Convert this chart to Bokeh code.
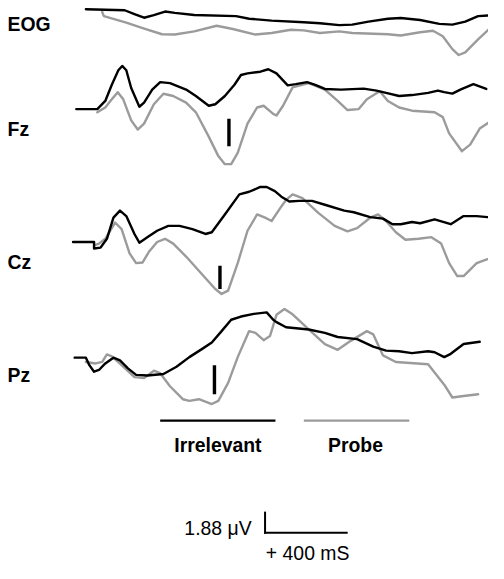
from bokeh.plotting import figure
from bokeh.models import Range1d
from bokeh.core.properties import value
from bokeh.embed import file_html
from bokeh.resources import INLINE

# ---------------- data (time in ms, amplitude in microvolts) ----------------
channels = ["EOG", "Fz", "Cz", "Pz"]
conditions = ["Irrelevant", "Probe"]

eog_irr_ms = [-56, 134, 182, 229, 277, 332, 380, 475, 680, 744, 854, 1012, 1091, 1186, 1249,
              1329, 1424, 1487, 1582, 1676, 1740, 1803, 1866, 1917]
eog_irr_uv = [0.00, -0.09, -0.45, -0.79, -0.54, -0.21, -0.34, -0.54, -0.64, -0.88, -1.06, -1.21,
              -1.30, -1.48, -1.43, -1.15, -0.88, -0.82, -1.00, -1.36, -1.43, -1.15, -0.64, -0.57]
eog_probe_ms = [24, 32, 142, 222, 317, 380, 475, 585, 664, 775, 854, 949, 1012, 1091, 1186, 1249,
                1424, 1487, 1582, 1645, 1693, 1740, 1771, 1803, 1866, 1917]
eog_probe_uv = [-0.25, -0.64, -1.24, -1.75, -2.33, -2.36, -2.06, -1.54, -1.84, -2.36, -2.21, -1.91,
                -1.97, -2.21, -2.06, -2.21, -2.33, -2.45, -2.15, -2.00, -2.52, -3.72, -4.27, -4.02,
                -2.81, -1.91]

fz_irr_ms = [-103, 0, 39, 71, 103, 122, 142, 166, 206, 229, 269, 308, 356, 435, 483, 546, 578,
             625, 672, 704, 736, 799, 838, 878, 933, 973, 1028, 1068, 1115, 1194, 1305, 1368,
             1415, 1479, 1542, 1621, 1669, 1700, 1740, 1779, 1843, 1906]
fz_irr_uv = [0.00, 0.00, 0.76, 2.27, 3.63, 4.03, 3.63, 1.97, 0.22, 0.61, 1.82, 2.52, 2.42, 1.82,
             1.22, 0.31, 0.45, 1.22, 2.27, 3.18, 3.33, 3.49, 3.72, 3.33, 2.22, 2.33, 2.52, 2.27,
             1.88, 1.82, 1.91, 1.73, 1.52, 1.22, 1.31, 1.52, 1.73, 1.58, 1.45, 1.82, 2.33, 1.88]
fz_probe_ms = [0, 39, 71, 100, 127, 166, 198, 229, 277, 324, 372, 435, 483, 546, 593, 625, 656,
               688, 736, 783, 815, 862, 878, 910, 957, 1036, 1115, 1178, 1226, 1281, 1321, 1384,
               1424, 1479, 1542, 1653, 1693, 1724, 1787, 1827, 1874, 1914]
fz_probe_uv = [-0.30, 0.15, 0.91, 1.58, 0.91, -1.05, -1.91, -1.36, 0.45, 1.43, 1.22, 0.61, -0.30,
               -2.57, -4.39, -5.14, -5.14, -4.09, -1.36, 0.15, 0.31, -0.45, -0.60, 0.31, 2.03,
               2.42, 1.82, 0.76, -0.09, 0.00, 0.91, 1.67, 0.76, 0.15, -0.15, -0.30, -0.75, -2.27,
               -3.93, -3.32, -1.82, -1.30]

cz_irr_ms = [-119, -16, -16, 16, 47, 79, 111, 142, 182, 206, 245, 293, 348, 403, 466, 530, 561,
             625, 696, 744, 799, 830, 870, 902, 941, 988, 1052, 1115, 1210, 1257, 1337, 1400,
             1447, 1487, 1542, 1582, 1653, 1732, 1795, 1859, 1912]
cz_irr_uv = [0.00, 0.00, -0.61, -0.52, 0.30, 2.27, 2.93, 2.42, 0.75, -0.06, 0.45, 1.05, 1.51,
             1.51, 1.21, 0.75, 0.91, 2.57, 4.45, 4.69, 5.14, 5.14, 4.75, 4.23, 3.78, 3.84, 3.84,
             3.48, 2.93, 2.78, 2.32, 2.18, 1.66, 1.66, 1.87, 1.75, 2.12, 1.66, 2.42, 2.42, 2.32]
cz_probe_ms = [-16, 8, 39, 87, 119, 158, 190, 222, 253, 293, 332, 372, 435, 514, 578, 609, 641,
               688, 736, 783, 822, 854, 902, 925, 957, 1005, 1083, 1163, 1226, 1273, 1337, 1376,
               1415, 1463, 1510, 1574, 1637, 1685, 1724, 1764, 1795, 1859, 1912]
cz_probe_uv = [-0.31, -0.15, 0.30, 1.82, 1.21, -1.06, -1.97, -1.91, -0.91, 0.00, 0.30, -0.15,
               -1.36, -3.03, -4.39, -4.85, -4.54, -1.97, 1.05, 2.57, 2.27, 1.96, 3.32, 3.93, 4.45,
               4.09, 2.72, 1.51, 1.00, 1.30, 2.27, 2.57, 1.96, 0.91, 0.21, 0.30, 0.45, -0.15,
               -1.97, -3.18, -3.18, -1.97, -1.61]

pz_irr_ms = [-111, -56, -39, -16, 8, 39, 79, 111, 150, 190, 245, 324, 388, 451, 514, 561, 609,
             656, 704, 767, 830, 862, 878, 925, 1036, 1115, 1178, 1273, 1352, 1415, 1479, 1542,
             1621, 1653, 1700, 1732, 1795, 1874]
pz_irr_uv = [0.00, 0.00, -0.70, -1.31, -1.15, -0.54, 0.00, -0.25, -1.00, -1.61, -1.67, -1.52,
             -0.85, 0.05, 0.82, 1.42, 2.48, 3.54, 3.84, 4.09, 4.23, 3.54, 3.32, 2.84, 2.63, 2.32,
             1.93, 1.73, 1.03, 0.66, 0.60, 0.42, 0.60, 0.51, 0.05, 0.36, 1.27, 1.48]
pz_probe_ms = [-56, -8, 24, 47, 71, 119, 182, 229, 277, 308, 356, 419, 451, 498, 561, 593, 641,
               688, 744, 775, 815, 846, 878, 917, 957, 1036, 1115, 1178, 1242, 1321, 1352, 1400,
               1463, 1621, 1700, 1740, 1795, 1866]
pz_probe_uv = [-0.40, -0.54, -0.40, 0.30, 0.12, -0.70, -1.82, -1.91, -1.22, -1.45, -2.67, -3.88,
               -4.03, -3.88, -4.33, -4.03, -2.36, 0.05, 2.48, 2.32, 1.63, 2.02, 4.00, 4.54, 4.05,
               2.63, 1.27, 0.73, 1.57, 2.48, 2.18, 0.21, -0.40, -0.61, -2.52, -3.72, -3.58, -3.42]

# peak markers (Fz, Cz, Pz)
marker_channels = ["Fz", "Cz", "Pz"]
marker_ms = [645, 601, 574]
marker_top_uv = [-0.91, -2.22, -0.70]
marker_bottom_uv = [-3.48, -4.39, -3.42]

# calibration
scale_uv = 1.88
scale_ms = 400
scale_uv_label = "1.88 \u03bcV"
scale_ms_label = "+ 400 mS"

traces = {
    "EOG": (eog_irr_ms, eog_irr_uv, eog_probe_ms, eog_probe_uv),
    "Fz": (fz_irr_ms, fz_irr_uv, fz_probe_ms, fz_probe_uv),
    "Cz": (cz_irr_ms, cz_irr_uv, cz_probe_ms, cz_probe_uv),
    "Pz": (pz_irr_ms, pz_irr_uv, pz_probe_ms, pz_probe_uv),
}

# ---------------- layout (positions / styles) ----------------
BASE = {"EOG": -0.82, "Fz": -10.14, "Cz": -22.55, "Pz": -33.35}
LABEL_Y = {"EOG": -2.22, "Fz": -11.98, "Cz": -24.44, "Pz": -35.00}
IRR_COLOR = "#000000"
PROBE_COLOR = "#9b9b9b"
FONT = "Liberation Sans"
FS = "19.4px"

p = figure(width=488, height=563, x_range=Range1d(-474.5, 1917.0),
           y_range=Range1d(-52.57, 0.0), toolbar_location=None,
           output_backend="svg", x_axis_type=None, y_axis_type=None,
           min_border=0, min_border_left=0, min_border_right=0,
           min_border_top=0, min_border_bottom=0)
p.outline_line_color = None
p.grid.visible = False
p.background_fill_color = "white"
p.border_fill_color = "white"

for ch in channels:
    irr_t, irr_v, pr_t, pr_v = traces[ch]
    b = BASE[ch]
    p.line(pr_t, [v + b for v in pr_v], line_color=PROBE_COLOR, line_width=2.4,
           line_join="round", line_cap="round")
    p.line(irr_t, [v + b for v in irr_v], line_color=IRR_COLOR, line_width=2.4,
           line_join="round", line_cap="round")

# channel labels
p.text(x=[-440.0] * len(channels), y=[LABEL_Y[c] for c in channels], text=channels,
       text_font=value(FONT), text_font_style="bold", text_font_size=FS,
       text_color="black", text_align="left", text_baseline="middle")

# markers
p.segment(x0=marker_ms, x1=marker_ms,
          y0=[t + BASE[c] for t, c in zip(marker_top_uv, marker_channels)],
          y1=[bt + BASE[c] for bt, c in zip(marker_bottom_uv, marker_channels)],
          line_color="black", line_width=3.4, line_cap="butt")

# legend
LEG_Y = -39.23
p.segment(x0=[308, 1012], x1=[873, 1529], y0=[LEG_Y, LEG_Y], y1=[LEG_Y, LEG_Y],
          line_color=[IRR_COLOR, PROBE_COLOR], line_width=2.4)
p.text(x=[591, 1265], y=[-41.49, -41.49], text=conditions,
       text_font=value(FONT), text_font_style="bold", text_font_size=FS,
       text_color="black", text_align="center", text_baseline="middle")

# calibration bar
SB_X, SB_Y = 822, -49.70
p.segment(x0=[SB_X, SB_X], x1=[SB_X, SB_X + scale_ms], y0=[SB_Y, SB_Y],
          y1=[SB_Y + scale_uv, SB_Y], line_color="black", line_width=2, line_cap="square")
p.text(x=[756], y=[-49.21], text=[scale_uv_label], text_font=value(FONT),
       text_font_size=FS, text_color="black", text_align="right",
       text_baseline="middle")
p.text(x=[826], y=[-51.63], text=[scale_ms_label], text_font=value(FONT),
       text_font_size=FS, text_color="black", text_align="left",
       text_baseline="middle")

open("out.html", "w").write(file_html(p, INLINE))
